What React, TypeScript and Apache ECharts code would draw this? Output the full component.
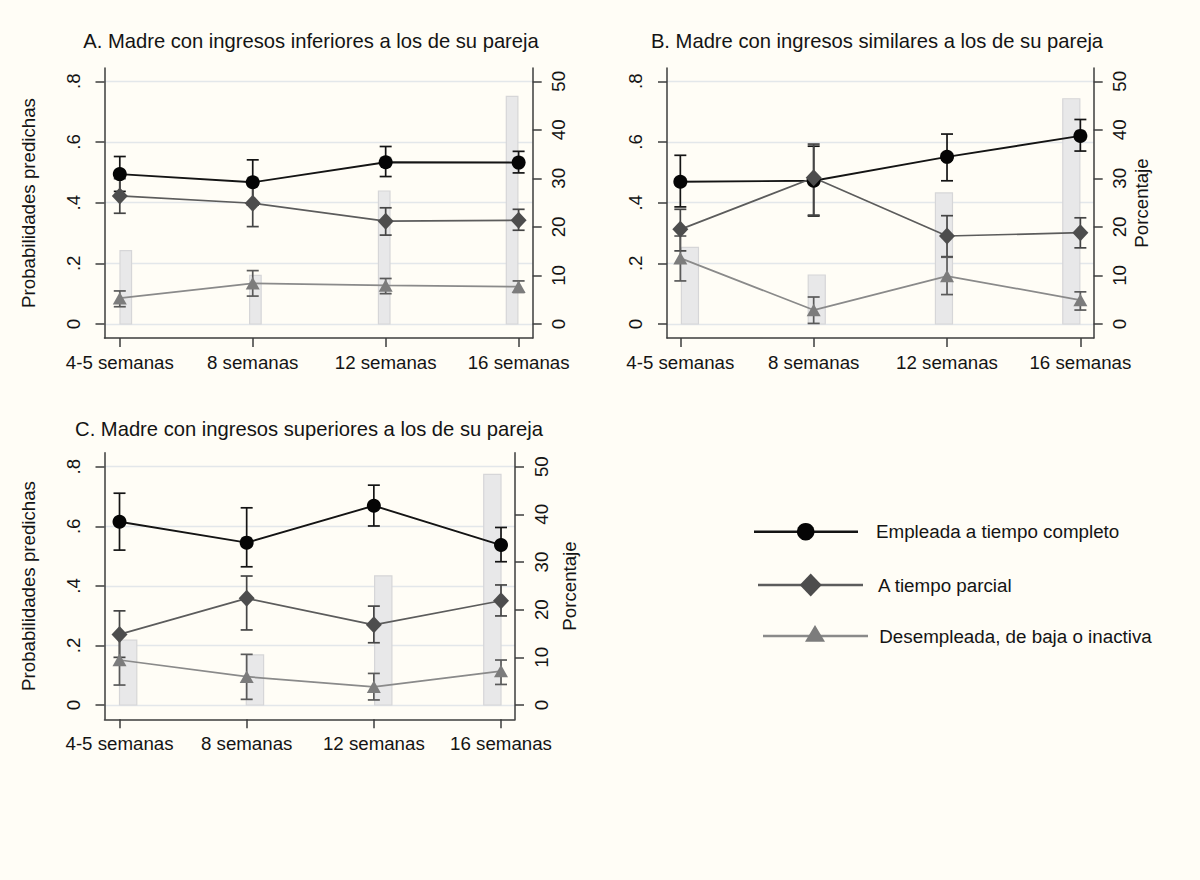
import React, { useEffect, useRef } from "react";
import * as echarts from "echarts";

// ---------- data ----------
const weeks = ["4-5 semanas", "8 semanas", "12 semanas", "16 semanas"];
const seriesNames = [
  "Empleada a tiempo completo",
  "A tiempo parcial",
  "Desempleada, de baja o inactiva",
];
const panelTitles = [
  "A. Madre con ingresos inferiores a los de su pareja",
  "B. Madre con ingresos similares a los de su pareja",
  "C. Madre con ingresos superiores a los de su pareja",
];
const probTicks = [0, 0.2, 0.4, 0.6, 0.8];
const probTickLabels = ["0", ".2", ".4", ".6", ".8"];
const pctTicks = [0, 10, 20, 30, 40, 50];
const leftAxisName = "Probabilidades predichas";
const rightAxisName = "Porcentaje";

// Panel A
const aFull = [0.494, 0.467, 0.533, 0.532];
const aFullLo = [0.437, 0.392, 0.486, 0.498];
const aFullHi = [0.552, 0.541, 0.585, 0.569];
const aPart = [0.422, 0.398, 0.339, 0.342];
const aPartLo = [0.365, 0.321, 0.293, 0.309];
const aPartHi = [0.479, 0.472, 0.383, 0.378];
const aUnemp = [0.085, 0.134, 0.127, 0.123];
const aUnempLo = [0.057, 0.092, 0.1, 0.104];
const aUnempHi = [0.109, 0.176, 0.15, 0.142];
const aPct = [15.1, 10.0, 27.4, 46.9];

// Panel B
const bFull = [0.469, 0.472, 0.551, 0.62];
const bFullLo = [0.386, 0.356, 0.472, 0.57];
const bFullHi = [0.556, 0.586, 0.626, 0.674];
const bPart = [0.312, 0.482, 0.29, 0.301];
const bPartLo = [0.241, 0.359, 0.222, 0.251];
const bPartHi = [0.378, 0.593, 0.357, 0.35];
const bUnemp = [0.217, 0.046, 0.158, 0.079];
const bUnempLo = [0.142, 0.002, 0.097, 0.046];
const bUnempHi = [0.29, 0.089, 0.22, 0.106];
const bPct = [15.8, 10.1, 27.0, 46.4];

// Panel C
const cFull = [0.615, 0.545, 0.669, 0.537];
const cFullLo = [0.52, 0.464, 0.601, 0.481];
const cFullHi = [0.711, 0.662, 0.738, 0.596];
const cPart = [0.237, 0.358, 0.269, 0.35];
const cPartLo = [0.16, 0.252, 0.209, 0.299];
const cPartHi = [0.316, 0.433, 0.332, 0.403];
const cUnemp = [0.151, 0.095, 0.061, 0.114];
const cUnempLo = [0.067, 0.019, 0.017, 0.069];
const cUnempHi = [0.235, 0.17, 0.106, 0.151];
const cPct = [13.6, 10.5, 27.1, 48.4];

// ---------- styles / layout ----------
const BG = "#fffdf6";
const AX = "#3c3c3c";
const TXT = "#141414";
const GRID = "#e3e7ea";
const FONT = "'Liberation Sans', Arial, sans-serif";
const SER_STYLE = [
  { line: "#141414", sym: "#050505", ci: "#141414", symbol: "circle", size: 14 },
  { line: "#5c5c5c", sym: "#4d4d4d", ci: "#454545", symbol: "diamond", size: [16, 17] },
  { line: "#8a8a8a", sym: "#7c7c7c", ci: "#5a5a5a", symbol: "triangle", size: [14, 12.5] },
];

const panels = [
  {
    grid: { left: 104.5, top: 68, width: 428.2, height: 270 },
    x: [-0.115, 3.106],
    y: [-0.0461, 0.8437],
    vals: [aFull, aPart, aUnemp],
    lo: [aFullLo, aPartLo, aUnempLo],
    hi: [aFullHi, aPartHi, aUnempHi],
    pct: aPct,
    barShift: [0.045, 0.02, -0.011, -0.049],
    barW: 0.087,
    leftName: true,
    rightName: false,
    rightGap: 38,
  },
  {
    grid: { left: 667, top: 68, width: 426.7, height: 270 },
    x: [-0.1, 3.1],
    y: [-0.0461, 0.8437],
    vals: [bFull, bPart, bUnemp],
    lo: [bFullLo, bPartLo, bUnempLo],
    hi: [bFullHi, bPartHi, bUnempHi],
    pct: bPct,
    barShift: [0.072, 0.023, -0.023, -0.068],
    barW: 0.128,
    leftName: false,
    rightName: true,
    rightGap: 38,
  },
  {
    grid: { left: 104.5, top: 452.7, width: 410.5, height: 266.6 },
    x: [-0.118, 3.11],
    y: [-0.048, 0.847],
    vals: [cFull, cPart, cUnemp],
    lo: [cFullLo, cPartLo, cUnempLo],
    hi: [cFullHi, cPartHi, cUnempHi],
    pct: cPct,
    barShift: [0.068, 0.065, 0.074, -0.068],
    barW: 0.136,
    leftName: true,
    rightName: true,
    rightGap: 45,
  },
];

const titlePos = [
  [311, 41.3],
  [877, 41.3],
  [309, 428.8],
];

function probLabel(v: number) {
  const i = probTicks.findIndex((t) => Math.abs(t - v) < 1e-6);
  return i >= 0 ? probTickLabels[i] : "";
}

function buildOption() {
  const grids: any[] = [];
  const xAxes: any[] = [];
  const yAxes: any[] = [];
  const series: any[] = [];
  const axisLine = { show: true, onZero: false, lineStyle: { color: AX, width: 1.5 } };
  const tickStyle = { color: AX, width: 1.5 };
  const labelFont = { fontSize: 18.7, color: TXT, fontFamily: FONT };

  panels.forEach((p, idx) => {
    grids.push({ ...p.grid, containLabel: false });
    xAxes.push({
      gridIndex: idx,
      type: "value",
      min: p.x[0],
      max: p.x[1],
      axisLine,
      axisTick: { show: true, length: 9, customValues: [0, 1, 2, 3], lineStyle: tickStyle },
      axisLabel: {
        ...labelFont,
        customValues: [0, 1, 2, 3],
        margin: 15,
        formatter: (v: number) => weeks[Math.round(v)] ?? "",
      },
      splitLine: { show: false },
    });
    yAxes.push({
      gridIndex: idx,
      type: "value",
      position: "left",
      min: p.y[0],
      max: p.y[1],
      axisLine,
      axisTick: { show: true, length: 9, customValues: probTicks, lineStyle: tickStyle },
      axisLabel: {
        ...labelFont,
        customValues: probTicks,
        rotate: 90,
        margin: 22,
        formatter: (v: number) => probLabel(v),
      },
      splitLine: { show: false },
      name: p.leftName ? leftAxisName : "",
      nameLocation: "middle",
      nameGap: 66.7,
      nameTextStyle: { ...labelFont },
    });
    yAxes.push({
      gridIndex: idx,
      type: "value",
      position: "right",
      min: p.y[0] * 62.5,
      max: p.y[1] * 62.5,
      axisLine,
      axisTick: { show: true, length: 9, customValues: pctTicks, lineStyle: tickStyle },
      axisLabel: {
        ...labelFont,
        customValues: pctTicks,
        rotate: 90,
        margin: 16.5,
      },
      splitLine: { show: false },
      name: p.rightName ? rightAxisName : "",
      nameLocation: "middle",
      nameGap: p.rightGap,
      nameTextStyle: { ...labelFont },
    });

    const yL = idx * 2;
    const yR = idx * 2 + 1;

    // grid lines
    series.push({
      type: "line",
      xAxisIndex: idx,
      yAxisIndex: yL,
      data: [],
      silent: true,
      z: 0,
      markLine: {
        silent: true,
        symbol: ["none", "none"],
        label: { show: false },
        lineStyle: { color: GRID, width: 1.4, type: "solid" },
        data: probTicks.map((v) => ({ yAxis: v })),
        z: 0,
      },
    });

    // percentage bars
    series.push({
      type: "custom",
      xAxisIndex: idx,
      yAxisIndex: yR,
      silent: true,
      z: 1,
      data: p.pct.map((v, i) => [i, v]),
      encode: { x: 0, y: 1 },
      renderItem: (params: any, api: any) => {
        const i = api.value(0);
        const v = api.value(1);
        const xc = i + p.barShift[i];
        const top = api.coord([xc, v]);
        const base = api.coord([xc, 0]);
        const w = api.size([p.barW, 0])[0];
        return {
          type: "rect",
          shape: { x: top[0] - w / 2, y: top[1], width: w, height: base[1] - top[1] },
          style: { fill: "#e8e8e9", stroke: "#d6d6d8", lineWidth: 1.2 },
        };
      },
    });

    // error bars + lines
    for (let s = 0; s < 3; s++) {
      const st = SER_STYLE[s];
      const lo = p.lo[s];
      const hi = p.hi[s];
      series.push({
        type: "custom",
        xAxisIndex: idx,
        yAxisIndex: yL,
        silent: true,
        z: 2,
        data: lo.map((l, i) => [i, l, hi[i]]),
        encode: { x: 0, y: [1, 2] },
        renderItem: (params: any, api: any) => {
          const x = api.value(0);
          const a = api.coord([x, api.value(1)]);
          const b = api.coord([x, api.value(2)]);
          const cw = 6;
          const style = { stroke: st.ci, lineWidth: 1.7, fill: "none" };
          return {
            type: "group",
            children: [
              { type: "line", shape: { x1: a[0], y1: a[1], x2: b[0], y2: b[1] }, style },
              { type: "line", shape: { x1: a[0] - cw, y1: a[1], x2: a[0] + cw, y2: a[1] }, style },
              { type: "line", shape: { x1: b[0] - cw, y1: b[1], x2: b[0] + cw, y2: b[1] }, style },
            ],
          };
        },
      });
      series.push({
        type: "line",
        name: seriesNames[s],
        xAxisIndex: idx,
        yAxisIndex: yL,
        z: 3,
        data: p.vals[s].map((v, i) => [i, v]),
        symbol: st.symbol,
        symbolSize: st.size,
        showSymbol: true,
        itemStyle: { color: st.sym, borderWidth: 0 },
        lineStyle: { color: st.line, width: s === 0 ? 1.9 : 1.7 },
      });
    }
  });

  // titles and legend as graphics
  const graphic: any[] = [];
  panelTitles.forEach((t, i) => {
    graphic.push({
      type: "text",
      x: titlePos[i][0],
      y: titlePos[i][1],
      style: {
        text: t,
        fontSize: 20.2,
        fontFamily: FONT,
        fill: TXT,
        align: "center",
        verticalAlign: "middle",
      },
    });
  });

  const legendRows = [
    { x1: 754, x2: 858, y: 531.7, cx: 805.7, tx: 876 },
    { x1: 758, x2: 863, y: 585, cx: 810.7, tx: 878 },
    { x1: 763, x2: 868, y: 636, cx: 815, tx: 879.3 },
  ];
  legendRows.forEach((r, s) => {
    const st = SER_STYLE[s];
    graphic.push({
      type: "line",
      shape: { x1: r.x1, y1: r.y, x2: r.x2, y2: r.y },
      style: { stroke: st.line, lineWidth: 2.6 },
    });
    if (s === 0) {
      graphic.push({ type: "circle", shape: { cx: r.cx, cy: r.y, r: 8.8 }, style: { fill: st.sym } });
    } else if (s === 1) {
      graphic.push({
        type: "polygon",
        shape: {
          points: [
            [r.cx, r.y - 11.5],
            [r.cx + 11, r.y],
            [r.cx, r.y + 11.5],
            [r.cx - 11, r.y],
          ],
        },
        style: { fill: st.sym },
      });
    } else {
      graphic.push({
        type: "polygon",
        shape: {
          points: [
            [r.cx, r.y - 11],
            [r.cx + 10, r.y + 5.7],
            [r.cx - 10, r.y + 5.7],
          ],
        },
        style: { fill: st.sym },
      });
    }
    graphic.push({
      type: "text",
      x: r.tx,
      y: r.y,
      style: {
        text: seriesNames[s],
        fontSize: 18.8,
        fontFamily: FONT,
        fill: TXT,
        align: "left",
        verticalAlign: "middle",
      },
    });
  });

  return {
    animation: false,
    backgroundColor: BG,
    textStyle: { fontFamily: FONT },
    grid: grids,
    xAxis: xAxes,
    yAxis: yAxes,
    series,
    graphic,
  };
}

export default function App() {
  const ref = useRef<HTMLDivElement>(null);
  useEffect(() => {
    document.body.style.margin = "0";
    document.body.style.background = BG;
    const chart = echarts.init(ref.current!, undefined, { renderer: "svg" });
    chart.setOption(buildOption() as any);
    return () => chart.dispose();
  }, []);
  return <div ref={ref} style={{ width: 1200, height: 880, background: BG }} />;
}
